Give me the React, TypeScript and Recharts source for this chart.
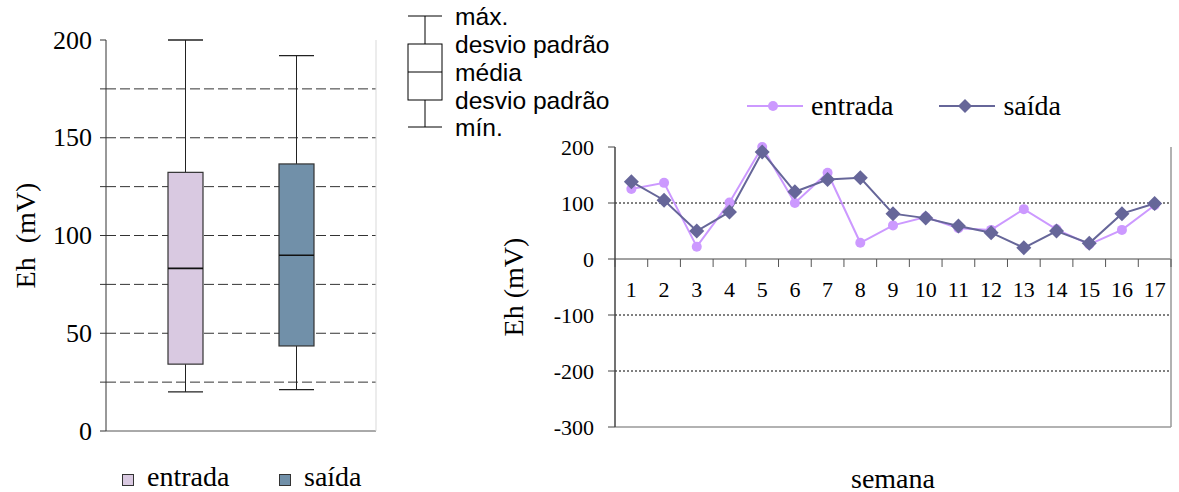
import React from 'react';
import {
  ComposedChart,
  LineChart,
  Bar,
  Line,
  XAxis,
  YAxis,
  CartesianGrid,
  ReferenceLine,
  Legend,
} from 'recharts';

// left chart: Eh box plot (mean ± standard deviation)
const boxCategories = ['entrada', 'saída'];
const boxMin = [20, 21.2];
const boxLower = [34.2, 43.5];
const boxMean = [83.2, 89.9];
const boxUpper = [132.3, 136.6];
const boxMax = [200, 192];
const boxColors = ['#d9c9e1', '#7190a9'];
const boxTicks = [0, 25, 50, 75, 100, 125, 150, 175, 200];
const boxGrid = [25, 50, 75, 100, 125, 150, 175];

const keyLabels = ['máx.', 'desvio padrão', 'média', 'desvio padrão', 'mín.'];

// right chart: weekly Eh
const semanas = ['1', '2', '3', '4', '5', '6', '7', '8', '9', '10', '11', '12', '13', '14', '15', '16', '17'];
const entrada = [125, 136, 22, 101, 200, 100, 154, 29, 60, 75, 55, 52, 89, 53, 26, 52, 96];
const saida = [138, 105, 50, 84, 191, 120, 142, 145, 81, 73, 59, 47, 20, 50, 28, 81, 99];
const ehTicks = [-300, -200, -100, 0, 100, 200];
const ehGrid = [100, -100, -200];

const boxData = boxCategories.map((name, i) => ({
  name,
  min: boxMin[i],
  lower: boxLower[i],
  mean: boxMean[i],
  upper: boxUpper[i],
  max: boxMax[i],
}));

const weekData = semanas.map((semana, i) => ({ semana, entrada: entrada[i], saida: saida[i] }));

const SERIF = '"Liberation Serif", "Times New Roman", serif';
const SANS = '"Liberation Sans", Arial, sans-serif';

const LINE_W = 699;
const LINE_LEFT = 135;
const LINE_RIGHT = 8;
const LINE_TOP = 147;
const LINE_BOTTOM = 65;
const PLOT_W = LINE_W - LINE_LEFT - LINE_RIGHT;
const PLOT_H = 492 - LINE_TOP - LINE_BOTTOM;
const HALF_BAND = PLOT_W / semanas.length / 2;
const ZERO_Y = LINE_TOP + (PLOT_H * ehTicks[ehTicks.length - 1]) / (ehTicks[ehTicks.length - 1] - ehTicks[0]);

function BoxShape(props: any) {
  const { x, y, width, height, payload, index } = props;
  const top = Math.min(y, y + height);
  const h = Math.abs(height);
  const unit = h / (payload.max - payload.min);
  const yOf = (v: number) => top + (payload.max - v) * unit;
  const cx = x + width / 2;
  return (
    <g>
      <line x1={cx} x2={cx} y1={yOf(payload.max)} y2={yOf(payload.upper)} stroke="#222" />
      <line x1={cx} x2={cx} y1={yOf(payload.lower)} y2={yOf(payload.min)} stroke="#222" />
      <line x1={x} x2={x + width} y1={yOf(payload.max)} y2={yOf(payload.max)} stroke="#222" strokeWidth={1.3} />
      <line x1={x} x2={x + width} y1={yOf(payload.min)} y2={yOf(payload.min)} stroke="#222" strokeWidth={1.3} />
      <rect
        x={x}
        y={yOf(payload.upper)}
        width={width}
        height={yOf(payload.lower) - yOf(payload.upper)}
        fill={boxColors[index]}
        stroke="#333"
        strokeWidth={1.2}
      />
      <line x1={x} x2={x + width} y1={yOf(payload.mean)} y2={yOf(payload.mean)} stroke="#111" strokeWidth={1.6} />
    </g>
  );
}

function makeYTick(fontSize: number, step: number) {
  return (props: any) => {
    const { x, y, payload } = props;
    if (payload.value % step !== 0) return <g />;
    return (
      <text x={x} y={y} textAnchor="end" dominantBaseline="central" fontFamily={SERIF} fontSize={fontSize} fill="#000">
        {payload.value}
      </text>
    );
  };
}

const BoxYTick = makeYTick(26, 50);
const EhYTick = makeYTick(22, 100);

// legend under the box plot, drawn as svg so it stays inside the picture
function BoxLegend() {
  const step = 157;
  return (
    <svg width={260} height={38}>
      {boxCategories.map((c, i) => (
        <g key={c}>
          <rect x={i * step + 0.5} y={22.5} width={11} height={11} fill={boxColors[i]} stroke="#333" />
          <text x={i * step + 25} y={33.5} fontFamily={SERIF} fontSize={28} fill="#000">
            {c}
          </text>
        </g>
      ))}
    </svg>
  );
}

function BoxKey() {
  const rows = [16, 44, 72, 100, 127];
  return (
    <svg width={250} height={140} style={{ position: 'absolute', left: 400, top: 0 }}>
      <line x1={25} x2={25} y1={rows[0]} y2={rows[1]} stroke="#000" />
      <line x1={25} x2={25} y1={rows[3]} y2={rows[4]} stroke="#000" />
      <line x1={8} x2={42} y1={rows[0]} y2={rows[0]} stroke="#000" />
      <line x1={8} x2={42} y1={rows[4]} y2={rows[4]} stroke="#000" />
      <rect x={8} y={rows[1]} width={34} height={rows[3] - rows[1]} fill="#fff" stroke="#000" />
      <line x1={8} x2={42} y1={rows[2]} y2={rows[2]} stroke="#000" />
      {keyLabels.map((t, i) => (
        <text key={i} x={55} y={rows[i]} dominantBaseline="central" fontFamily={SANS} fontSize={24.6} fill="#000">
          {t}
        </text>
      ))}
    </svg>
  );
}

function Diamond(props: any) {
  const { cx, cy } = props;
  if (cx == null || cy == null) return null;
  const s = 7.5;
  return <polygon points={`${cx},${cy - s} ${cx + s},${cy} ${cx},${cy + s} ${cx - s},${cy}`} fill="#666699" />;
}

function WeekTick(props: any) {
  const { x, payload, index } = props;
  const last = index === semanas.length - 1;
  return (
    <g>
      <line x1={x - HALF_BAND} x2={x - HALF_BAND} y1={ZERO_Y} y2={ZERO_Y + 8} stroke="#555" />
      {last && <line x1={x + HALF_BAND} x2={x + HALF_BAND} y1={ZERO_Y} y2={ZERO_Y + 8} stroke="#555" />}
      <text x={x} y={ZERO_Y + 38} textAnchor="middle" fontFamily={SERIF} fontSize={22} fill="#000">
        {payload.value}
      </text>
    </g>
  );
}

function WeekLegend() {
  const items = [
    { name: 'entrada', color: '#cc99ff', marker: 'circle' },
    { name: 'saída', color: '#666699', marker: 'diamond' },
  ];
  return (
    <div style={{ display: 'flex', alignItems: 'center', fontFamily: SERIF, fontSize: 28, lineHeight: '28px', color: '#000' }}>
      {items.map((it) => (
        <div key={it.name} style={{ display: 'flex', alignItems: 'center', marginRight: 46 }}>
          <svg width={56} height={20} style={{ marginRight: 8 }}>
            <line x1={0} x2={56} y1={10} y2={10} stroke={it.color} strokeWidth={2} />
            {it.marker === 'circle' ? (
              <circle cx={26} cy={10} r={5} fill={it.color} />
            ) : (
              <polygon points="26,3 33,10 26,17 19,10" fill={it.color} />
            )}
          </svg>
          <span>{it.name}</span>
        </div>
      ))}
    </div>
  );
}

function rotatedLabel(text: string, dx: number) {
  return (props: any) => {
    const vb = props.viewBox || {};
    const cx = vb.x + dx;
    const cy = vb.y + vb.height / 2;
    return (
      <text
        x={cx}
        y={cy}
        transform={`rotate(-90 ${cx} ${cy})`}
        textAnchor="middle"
        dominantBaseline="central"
        fontFamily={SERIF}
        style={{ whiteSpace: 'pre' }}
        fontSize={28}
        fill="#000"
      >
        {text}
      </text>
    );
  };
}

function bottomLabel(text: string, dy: number) {
  return (props: any) => {
    const vb = props.viewBox || {};
    return (
      <text
        x={vb.x + vb.width / 2}
        y={vb.y + dy}
        textAnchor="middle"
        dominantBaseline="central"
        fontFamily={SERIF}
        fontSize={28}
        fill="#000"
      >
        {text}
      </text>
    );
  };
}

export default function App() {
  return (
    <div
      style={{
        position: 'absolute',
        left: 0,
        top: 0,
        width: 1179,
        height: 492,
        background: '#fff',
        fontFamily: SERIF,
      }}
    >
      <div style={{ position: 'absolute', left: 0, top: 0 }}>
        <ComposedChart width={400} height={492} data={boxData} margin={{ top: 40, right: 23, bottom: 60, left: 0 }}>
          <CartesianGrid vertical={false} horizontalValues={boxGrid} stroke="#333" strokeDasharray="10 4" />
          <XAxis
            dataKey="name"
            tick={false}
            tickLine={false}
            height={1}
            padding={{ left: 24, right: 24 }}
            axisLine={{ stroke: '#555' }}
          />
          <XAxis
            xAxisId="top"
            orientation="top"
            dataKey="name"
            tick={false}
            tickLine={false}
            height={0}
            axisLine={{ stroke: '#d9d9d9' }}
          />
          <YAxis
            domain={[0, 200]}
            ticks={boxTicks}
            interval={0}
            width={106}
            tick={<BoxYTick />}
            tickSize={6}
            tickMargin={8}
            tickLine={{ stroke: '#333' }}
            axisLine={{ stroke: '#333' }}
            label={{ content: rotatedLabel('Eh  (mV)', 25) }}
          />
          <YAxis
            yAxisId="r"
            orientation="right"
            domain={[0, 200]}
            width={1}
            tick={false}
            tickLine={false}
            axisLine={{ stroke: '#d9d9d9' }}
          />
          <Bar
            dataKey={(d: any) => [d.min, d.max]}
            barSize={35}
            shape={<BoxShape />}
            isAnimationActive={false}
            legendType="none"
          />
          <Legend
            verticalAlign="middle"
            content={() => <BoxLegend />}
            wrapperStyle={{ top: 452, left: 122, width: 'auto' }}
          />
        </ComposedChart>
      </div>

      <BoxKey />

      <div style={{ position: 'absolute', left: 480, top: 0 }}>
        <LineChart
          width={LINE_W}
          height={492}
          data={weekData}
          margin={{ top: LINE_TOP, right: LINE_RIGHT - 1, bottom: LINE_BOTTOM - 1, left: 0 }}
        >
          <CartesianGrid vertical={false} horizontalValues={ehGrid} stroke="#000" strokeDasharray="2 2" />
          <ReferenceLine y={0} stroke="#444" />
          <XAxis
            dataKey="semana"
            height={1}
            interval={0}
            padding={{ left: HALF_BAND, right: HALF_BAND }}
            tickLine={false}
            axisLine={{ stroke: '#999', strokeWidth: 1.5 }}
            tick={<WeekTick />}
            label={{ content: bottomLabel('semana', 51) }}
          />
          <XAxis
            xAxisId="top"
            orientation="top"
            dataKey="semana"
            height={0}
            tick={false}
            tickLine={false}
            axisLine={{ stroke: '#999', strokeWidth: 1.5 }}
          />
          <YAxis
            domain={[-300, 200]}
            ticks={ehTicks}
            interval={0}
            width={LINE_LEFT}
            tick={<EhYTick />}
            tickSize={7}
            tickMargin={14}
            tickLine={{ stroke: '#444' }}
            axisLine={{ stroke: '#444', strokeWidth: 1.5 }}
            label={{ content: rotatedLabel('Eh (mV)', 33) }}
          />
          <YAxis
            yAxisId="r"
            orientation="right"
            domain={[-300, 200]}
            width={1}
            tick={false}
            tickLine={false}
            axisLine={{ stroke: '#999', strokeWidth: 1.5 }}
          />
          <Line
            dataKey="entrada"
            name="entrada"
            stroke="#cc99ff"
            strokeWidth={2}
            dot={{ r: 5, fill: '#cc99ff', stroke: 'none' }}
            isAnimationActive={false}
          />
          <Line
            dataKey="saida"
            name="saída"
            stroke="#666699"
            strokeWidth={2}
            dot={<Diamond />}
            isAnimationActive={false}
          />
          <Legend
            verticalAlign="middle"
            content={() => <WeekLegend />}
            wrapperStyle={{ top: 92, left: 267, width: 'auto' }}
          />
        </LineChart>
      </div>
    </div>
  );
}
